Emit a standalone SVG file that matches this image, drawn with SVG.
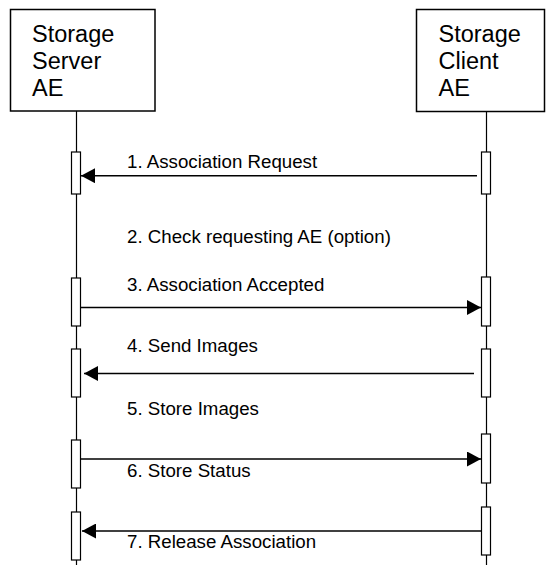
<svg xmlns="http://www.w3.org/2000/svg" width="546" height="565" viewBox="0 0 546 565">
<style>
.box{fill:#fff;stroke:#000;stroke-width:1.5}
.life{stroke:#000;stroke-width:1.2;fill:none}
.act{fill:#fff;stroke:#000;stroke-width:1.2}
.msg{stroke:#000;stroke-width:1.6;fill:none;marker-end:url(#ah)}
.hdr{font-family:"Liberation Sans",Arial,sans-serif;font-size:23.5px;fill:#000}
.lbl{font-family:"Liberation Sans",Arial,sans-serif;font-size:18.7px;fill:#000}
</style>
<defs>
<marker id="ah" markerUnits="userSpaceOnUse" markerWidth="15" markerHeight="15" refX="14" refY="7.5" orient="auto">
<path d="M0,0 L14,7.5 L0,15 z" fill="#000"/>
</marker>
</defs>
<rect width="546" height="565" fill="#fff"/>
<g id="lifelines">
<line class="life" x1="76.5" y1="111" x2="76.5" y2="565"/>
<line class="life" x1="486.5" y1="112" x2="486.5" y2="565"/>
</g>
<g id="server">
<rect class="box" x="10.5" y="9.5" width="144.5" height="101.5"/>
<text class="hdr" x="32" y="42">Storage</text>
<text class="hdr" x="32" y="69">Server</text>
<text class="hdr" x="32" y="96">AE</text>
</g>
<g id="client">
<rect class="box" x="416.5" y="9.5" width="128" height="102"/>
<text class="hdr" x="438.5" y="42">Storage</text>
<text class="hdr" x="438.5" y="69">Client</text>
<text class="hdr" x="438.5" y="96">AE</text>
</g>
<g id="activations">
<rect class="act" x="71.5" y="152" width="9" height="42"/>
<rect class="act" x="71.5" y="278" width="9" height="48"/>
<rect class="act" x="71.5" y="349" width="9" height="48"/>
<rect class="act" x="71.5" y="440" width="9" height="48"/>
<rect class="act" x="71.5" y="512" width="9" height="48"/>
<rect class="act" x="481.5" y="152" width="9" height="42"/>
<rect class="act" x="481.5" y="277" width="9" height="49"/>
<rect class="act" x="481.5" y="349" width="9" height="48"/>
<rect class="act" x="481.5" y="434" width="9" height="49"/>
<rect class="act" x="481.5" y="507" width="9" height="48"/>
</g>
<g id="connectors">
<line class="msg" x1="477" y1="175.7" x2="81" y2="175.7"/>
<line class="msg" x1="81" y1="307.5" x2="481" y2="307.5"/>
<line class="msg" x1="474" y1="373.5" x2="84" y2="373.5"/>
<line class="msg" x1="81" y1="459" x2="481" y2="459"/>
<line class="msg" x1="482" y1="531" x2="82" y2="531"/>
</g>
<g id="labels">
<text class="lbl" x="127" y="168">1. Association Request</text>
<text class="lbl" x="127" y="243">2. Check requesting AE (option)</text>
<text class="lbl" x="127" y="291">3. Association Accepted</text>
<text class="lbl" x="127" y="352">4. Send Images</text>
<text class="lbl" x="127" y="415">5. Store Images</text>
<text class="lbl" x="127" y="477">6. Store Status</text>
<text class="lbl" x="127" y="548">7. Release Association</text>
</g>
</svg>
